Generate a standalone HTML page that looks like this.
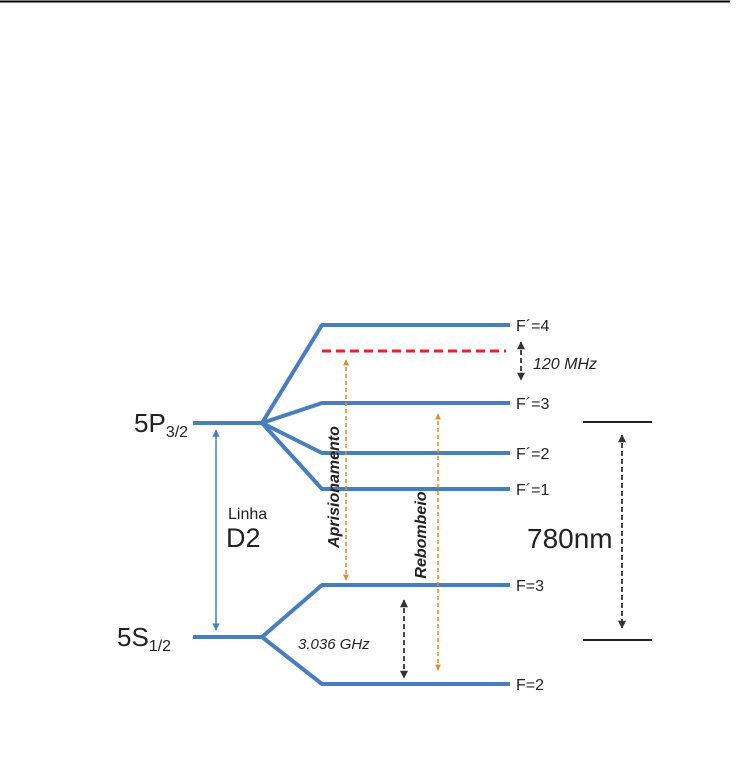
<!DOCTYPE html>
<html><head><meta charset="utf-8"><style>
html,body{margin:0;padding:0;background:#fff;}
svg{display:block;font-family:"Liberation Sans",Arial,sans-serif;}
</style></head><body>
<svg width="749" height="781" viewBox="0 0 749 781" xmlns="http://www.w3.org/2000/svg">
<defs>
<marker id="ab" viewBox="0 0 10 10" refX="9" refY="5" markerWidth="5" markerHeight="5" orient="auto-start-reverse"><path d="M0,0 L10,5 L0,10z" fill="#4a7ebb"/></marker>
<marker id="ao" viewBox="0 0 10 10" refX="9" refY="5" markerWidth="4" markerHeight="4" orient="auto-start-reverse"><path d="M0,0 L10,5 L0,10z" fill="#e38a2c"/></marker>
<marker id="ak" viewBox="0 0 10 10" refX="9" refY="5" markerWidth="4.5" markerHeight="4.5" orient="auto-start-reverse"><path d="M0,0 L10,5 L0,10z" fill="#333"/></marker>
</defs>
<line x1="0" y1="1.5" x2="730" y2="1.5" stroke="#000" stroke-width="2"/>
<g stroke="#4a7ebb" stroke-width="4" fill="none" stroke-linejoin="round">
<polyline points="193,423 262,423"/>
<polyline points="262,423 322,325 510,325"/>
<polyline points="262,423 322,403 510,403"/>
<polyline points="262,423 322,453 510,453"/>
<polyline points="262,423 322,489 510,489"/>
<polyline points="193,637 262,637"/>
<polyline points="262,637 322,585 510,585"/>
<polyline points="262,637 322,684 510,684"/>
</g>
<line x1="322" y1="351" x2="506" y2="351" stroke="#e0242a" stroke-width="3" stroke-dasharray="9,5"/>
<line x1="216" y1="430" x2="216" y2="630" stroke="#4a7ebb" stroke-width="1.5" marker-start="url(#ab)" marker-end="url(#ab)"/>
<line x1="346" y1="360" x2="346" y2="580" stroke="#e38a2c" stroke-width="1.5" stroke-dasharray="4,3" marker-start="url(#ao)" marker-end="url(#ao)"/>
<line x1="438" y1="414" x2="438" y2="670" stroke="#e38a2c" stroke-width="1.5" stroke-dasharray="4,3" marker-start="url(#ao)" marker-end="url(#ao)"/>
<line x1="622" y1="435" x2="622" y2="628" stroke="#333" stroke-width="1.8" stroke-dasharray="5,3" marker-start="url(#ak)" marker-end="url(#ak)"/>
<line x1="521" y1="342" x2="521" y2="380" stroke="#333" stroke-width="1.8" stroke-dasharray="5,3" marker-start="url(#ak)" marker-end="url(#ak)"/>
<line x1="404" y1="600" x2="404" y2="678" stroke="#333" stroke-width="1.8" stroke-dasharray="5,3" marker-start="url(#ak)" marker-end="url(#ak)"/>
<line x1="583" y1="422" x2="652" y2="422" stroke="#222" stroke-width="2"/>
<line x1="583" y1="640" x2="652" y2="640" stroke="#222" stroke-width="2"/>
<g fill="#222" font-size="16">
<text x="516" y="331">F´=4</text>
<text x="516" y="409">F´=3</text>
<text x="516" y="459">F´=2</text>
<text x="516" y="495">F´=1</text>
<text x="516" y="591">F=3</text>
<text x="516" y="690">F=2</text>
<text x="533" y="369" font-style="italic" font-size="16">120 MHz</text>
<text x="298" y="649" font-style="italic" font-size="15">3.036 GHz</text>
<text x="228" y="519" font-size="16">Linha</text>
<text x="226" y="547" font-size="27">D2</text>
<text x="527" y="548" font-size="28">780nm</text>
<text x="134" y="432" font-size="26">5P<tspan font-size="16" dy="5">3/2</tspan></text>
<text x="117" y="646" font-size="26">5S<tspan font-size="16" dy="5">1/2</tspan></text>
<text transform="translate(339,487) rotate(-90)" text-anchor="middle" font-size="16" font-weight="bold" font-style="italic">Aprisionamento</text>
<text transform="translate(426,535) rotate(-90)" text-anchor="middle" font-size="16" font-weight="bold" font-style="italic">Rebombeio</text>
</g>
</svg>
</body></html>
